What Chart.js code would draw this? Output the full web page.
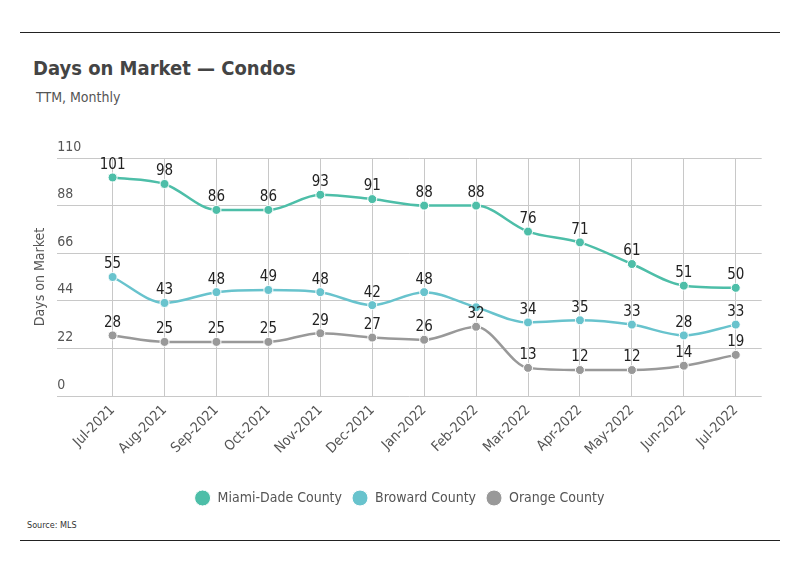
<!DOCTYPE html>
<html>
<head>
<meta charset="utf-8">
<script src="https://cdn.jsdelivr.net/npm/chart.js@4.4.1/dist/chart.umd.min.js"></script>
<style>
  html, body { margin: 0; padding: 0; background: #fff; }
  body { width: 799px; height: 575px; position: relative; overflow: hidden;
         font-family: "DejaVu Sans Condensed", "Liberation Sans", sans-serif; }
  .rule { position: absolute; left: 20px; width: 760px; height: 0; border-top: 1.5px solid #222; }
  #title { position: absolute; left: 33px; top: 56px; font-size: 20px; font-weight: bold; color: #444; line-height: 24px; white-space: nowrap; }
  #subtitle { position: absolute; left: 36px; top: 88px; font-size: 14px; color: #555; line-height: 18px; white-space: nowrap; }
  #source { position: absolute; left: 27px; top: 520px; font-size: 9px; color: #333; line-height: 11px; white-space: nowrap; }
  #wrap { position: absolute; left: 0; top: 0; width: 799px; height: 575px; }
</style>
</head>
<body>
<div class="rule" style="top:32px"></div>
<div class="rule" style="top:540px"></div>
<div id="title">Days on Market — Condos</div>
<div id="subtitle">TTM, Monthly</div>
<div id="source">Source: MLS</div>
<div id="wrap"><canvas id="chart"></canvas></div>
<script>
const FONT = '"DejaVu Sans Condensed", "Liberation Sans", sans-serif';

const months = ["Jul-2021","Aug-2021","Sep-2021","Oct-2021","Nov-2021","Dec-2021","Jan-2022",
                "Feb-2022","Mar-2022","Apr-2022","May-2022","Jun-2022","Jul-2022"];
const miamiDade = [101, 98, 86, 86, 93, 91, 88, 88, 76, 71, 61, 51, 50];
const broward   = [55, 43, 48, 49, 48, 42, 48, 41, 34, 35, 33, 28, 33];
const orange    = [28, 25, 25, 25, 29, 27, 26, 32, 13, 12, 12, 14, 19];
const yTicks    = [0, 22, 44, 66, 88, 110];

const toPoints = vals => vals.map((v, i) => ({ x: i, y: v }));

function series(label, vals, color) {
  return {
    label: label,
    data: toPoints(vals),
    borderColor: color,
    backgroundColor: color,
    pointBackgroundColor: color,
    pointBorderColor: "#fff",
    pointBorderWidth: 1,
    pointRadius: 4.5,
    pointHoverRadius: 4.5,
    borderWidth: 2.5,
    cubicInterpolationMode: "monotone",
    fill: false
  };
}

// value labels above points, skipped where they would overlap another label
const valueLabels = {
  id: "valueLabels",
  afterDatasetsDraw(chart) {
    const ctx = chart.ctx;
    const boxes = [];
    const pad = 4;
    ctx.save();
    ctx.font = "15px " + FONT;
    ctx.fillStyle = "#222";
    ctx.textAlign = "center";
    ctx.textBaseline = "bottom";
    for (let d = chart.data.datasets.length - 1; d >= 0; d--) {
      const meta = chart.getDatasetMeta(d);
      meta.data.forEach((pt, i) => {
        const txt = String(chart.data.datasets[d].data[i].y);
        const w = ctx.measureText(txt).width;
        const b = { l: pt.x - w / 2 - pad, r: pt.x + w / 2 + pad, t: pt.y - 18 - pad, btm: pt.y - 5 + pad };
        const hit = boxes.some(o => b.l < o.r && b.r > o.l && b.t < o.btm && b.btm > o.t);
        if (hit) return;
        boxes.push(b);
        ctx.fillText(txt, pt.x, pt.y - 5);
      });
    }
    ctx.restore();
  }
};

new Chart(document.getElementById("chart"), {
  type: "line",
  data: {
    datasets: [
      series("Miami-Dade County", miamiDade, "#4dbea8"),
      series("Broward County", broward, "#68c3cd"),
      series("Orange County", orange, "#999999")
    ]
  },
  plugins: [valueLabels],
  options: {
    responsive: true,
    maintainAspectRatio: false,
    animation: false,
    layout: { padding: { top: 158, right: 0, bottom: 60, left: 0 } },
    plugins: {
      tooltip: { enabled: false },
      legend: {
        position: "bottom",
        labels: {
          usePointStyle: true,
          pointStyle: "circle",
          pointStyleWidth: 16,
          boxHeight: 11.3,
          padding: 10,
          color: "#555",
          font: { family: FONT, size: 14 }
        }
      }
    },
    scales: {
      x: {
        type: "linear",
        min: -1.065,
        max: 12.5,
        border: { display: false },
        grid: { color: "#c8c8c8", drawTicks: false },
        afterBuildTicks: s => { s.ticks = months.map((m, i) => ({ value: i })); },
        afterFit: s => { s.height = 85; },
        ticks: {
          autoSkip: false,
          minRotation: 45,
          maxRotation: 45,
          padding: 6,
          color: "#555",
          font: { family: FONT, size: 14 },
          callback: v => months[v] || ""
        }
      },
      y: {
        min: 0,
        max: 110,
        border: { display: false },
        grid: { color: "#c8c8c8", drawTicks: false },
        afterBuildTicks: s => { s.ticks = yTicks.map(v => ({ value: v })); },
        afterFit: s => { s.width = 57.3; },
        title: {
          display: true,
          text: "Days on Market",
          color: "#555",
          font: { family: FONT, size: 14 },
          padding: { top: 32, bottom: 0 }
        },
        ticks: {
          mirror: true,
          padding: 0,
          labelOffset: -11,
          color: "#555",
          font: { family: FONT, size: 14 }
        }
      },
      // empty right-hand axis that only reserves the margin right of the plot
      yRight: {
        position: "right",
        min: 0,
        max: 110,
        border: { display: false },
        grid: { display: false },
        ticks: { display: false },
        afterFit: s => { s.width = 37.3; }
      }
    }
  }
});
</script>
</body>
</html>
